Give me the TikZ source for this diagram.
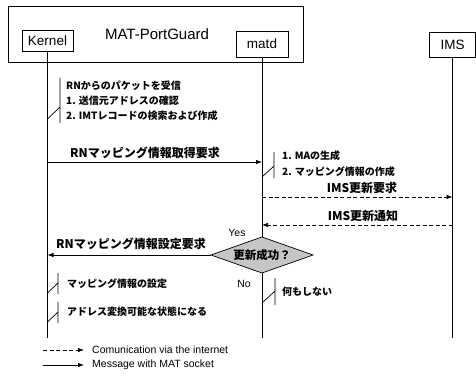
\documentclass[tikz,border=0pt]{standalone}
\usepackage{fontspec}
\setmainfont{Liberation Sans}
\newfontfamily\jp{Noto Sans CJK JP}
\usetikzlibrary{arrows.meta}
\begin{document}
\begin{tikzpicture}[x=1pt,y=-1pt,
  box/.style={draw, line width=0.8pt, inner sep=0pt, font=\fontsize{13.5}{15}\selectfont},
  life/.style={line width=0.7pt},
  msg/.style={line width=0.7pt, -{Latex[length=6pt,width=4.5pt]}},
  net/.style={msg, dash pattern=on 4pt off 2.5pt},
  lbl/.style={font=\jp\bfseries\fontsize{12}{14}\selectfont, inner sep=0pt},
  ptxt/.style={font=\jp\bfseries\fontsize{10}{12}\selectfont, inner sep=0pt, anchor=west},
  legtxt/.style={font=\fontsize{10.5}{12}\selectfont, inner sep=0pt, anchor=west},
  yn/.style={font=\fontsize{10.5}{12}\selectfont, inner sep=0pt},
  procmark/.style={line width=0.7pt}
]
\useasboundingbox (0,0) rectangle (476,377);

% headers
\node[box, minimum width=295pt, minimum height=56pt] (pg) at (155.5,34) {};
\node[inner sep=0pt, font=\fontsize{15}{17}\selectfont] (title) at (157,34) {MAT-PortGuard};
\node[box, minimum width=51pt, minimum height=21pt] (kernel) at (47.5,40.5) {Kernel};
\node[box, minimum width=52pt, minimum height=26pt] (matd) at (262,44) {matd};
\node[box, minimum width=46pt, minimum height=25pt] (ims) at (452.5,44.5) {IMS};

% decision
\coordinate (decW) at (211,255);
\coordinate (decN) at (262,237);
\coordinate (decE) at (313,255);
\coordinate (decS) at (262,273);
\draw[line width=0.7pt, fill=gray!45] (decW) -- (decN) -- (decE) -- (decS) -- cycle;
\node[inner sep=0pt, font=\jp\bfseries\fontsize{11.5}{13}\selectfont] (dec) at (262,255) {更新成功？};

% lifelines
\coordinate (kend) at (47.5,338);
\coordinate (mend) at (262,338);
\coordinate (iend) at (452.5,338);
\draw[life] (kernel.south) -- (kend);
\draw[life] (matd.south) -- (decN);
\draw[life] (decS) -- (mend);
\draw[life] (ims.south) -- (iend);

% process on Kernel (1)
\draw[procmark] (47.5,119) -- (60,107) (60,78) -- (60,123);
\node[ptxt] (p1a) at (66,86) {RNからのパケットを受信};
\node[ptxt] (p1b) at (66,101) {1. 送信元アドレスの確認};
\node[ptxt] (p1c) at (66,116) {2. IMTレコードの検索および作成};

% message 1
\coordinate (k1) at (47.5,162);
\coordinate (m1) at (262,162);
\draw[msg] (k1) -- (m1);
\node[lbl] (l1) at (145,153) {RNマッピング情報取得要求};

% process on matd
\draw[procmark] (262,177) -- (274,166) (274,152) -- (274,178);
\node[ptxt] (p2a) at (282,156) {1. MAの生成};
\node[ptxt] (p2b) at (282,172) {2. マッピング情報の作成};

% IMS messages
\coordinate (m2) at (262,197);
\coordinate (i2) at (452.5,197);
\draw[net] (m2) -- (i2);
\node[lbl] (l2) at (362,188) {IMS更新要求};
\coordinate (i3) at (452.5,225);
\coordinate (m3) at (262,225);
\draw[net] (i3) -- (m3);
\node[lbl] (l3) at (363,216) {IMS更新通知};

% yes branch
\node[yn] (yes) at (237,233) {Yes};
\coordinate (k3) at (47.5,255);
\draw[msg] (decW) -- (k3);
\node[lbl] (l4) at (131,244) {RNマッピング情報設定要求};

% no branch
\node[yn] (no) at (244,284) {No};
\draw[procmark] (262,303) -- (275,291) (275,278) -- (275,305);
\node[ptxt] (p3) at (282,292) {何もしない};

% processes on Kernel (2)
\draw[procmark] (47.5,293) -- (58,283) (58,273) -- (58,294);
\node[ptxt] (p4) at (67,284) {マッピング情報の設定};
\draw[procmark] (47.5,322) -- (58,312) (58,302) -- (58,323);
\node[ptxt] (p5) at (67,312) {アドレス変換可能な状態になる};

% legend
\coordinate (la1) at (43,350);
\coordinate (la2) at (84,350);
\draw[net] (la1) -- (la2);
\node[legtxt] (lg1) at (92,350) {Comunication via the internet};
\coordinate (lb1) at (43,365);
\coordinate (lb2) at (84,365);
\draw[msg] (lb1) -- (lb2);
\node[legtxt] (lg2) at (92,365) {Message with MAT socket};
\end{tikzpicture}
\end{document}
